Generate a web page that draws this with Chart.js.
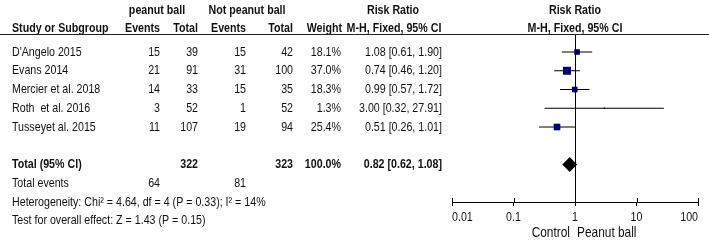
<!DOCTYPE html>
<html>
<head>
<meta charset="utf-8">
<script src="https://cdn.jsdelivr.net/npm/chart.js@4.4.1/dist/chart.umd.min.js"></script>
<style>
  html, body { margin: 0; padding: 0; background: #fff; }
</style>
</head>
<body>
<canvas id="forest" width="709" height="242"></canvas>
<script>
// study rows
const studies = ["D'Angelo 2015", 'Evans 2014', 'Mercier et al. 2018', 'Roth  et al. 2016', 'Tusseyet al. 2015'];
const pbEvents = [15, 21, 14, 3, 11];
const pbTotal = [39, 91, 33, 52, 107];
const npEvents = [15, 31, 15, 1, 19];
const npTotal = [42, 100, 35, 52, 94];
const weights = [18.1, 37.0, 18.3, 1.3, 25.4];
const riskRatio = [1.08, 0.74, 0.99, 3.00, 0.51];
const ciLow = [0.61, 0.46, 0.57, 0.32, 0.26];
const ciHigh = [1.90, 1.20, 1.72, 27.91, 1.01];

// pooled result
const totalPb = 322;
const totalNp = 323;
const totalEventsPb = 64;
const totalEventsNp = 81;
const totalWeight = 100.0;
const totalRR = 0.82;
const totalLow = 0.62;
const totalHigh = 1.08;
const heterogeneity = 'Heterogeneity: Chi\u00b2 = 4.64, df = 4 (P = 0.33); I\u00b2 = 14%';
const overallTest = 'Test for overall effect: Z = 1.43 (P = 0.15)';

// axis
const tickValues = [0.01, 0.1, 1, 10, 100];
const tickLabels = ['0.01', '0.1', '1', '10', '100'];

const TOTAL_ROW = 6, EVENTS_ROW = 7, HET_ROW = 8, TEST_ROW = 9;

// pick a narrow font, squeeze a normal one if none is installed
function hasFont(name) {
    const c = document.createElement('canvas').getContext('2d');
    const probe = 'abcdefghijklmnop 0123456789';
    c.font = '20px monospace';
    const base = c.measureText(probe).width;
    c.font = `20px "${name}", monospace`;
    return c.measureText(probe).width !== base;
}
const narrow = hasFont('Liberation Sans Narrow');
const FONT = narrow ? '"Liberation Sans Narrow", "Arial Narrow", sans-serif' : '"Liberation Sans", Arial, sans-serif';
const SQUEEZE = narrow ? 1 : 0.82;

function txt(ctx, s, x, y, align, bold, size) {
    ctx.save();
    ctx.font = (bold ? 'bold ' : '') + (size || 13) + 'px ' + FONT;
    ctx.textAlign = align;
    ctx.textBaseline = 'middle';
    ctx.fillStyle = '#111';
    ctx.translate(x, y);
    ctx.scale(SQUEEZE, 1);
    ctx.fillText(s, 0, 0);
    ctx.restore();
}

const fmtRR = (v, l, h) => `${v.toFixed(2)} [${l.toFixed(2)}, ${h.toFixed(2)}]`;

// column right edges
const COL = { study: 12, ev1: 160, tot1: 198, ev2: 246, tot2: 293, weight: 341, rr: 442 };
const HEADER_LINE = 34;

const forestTable = {
    id: 'forestTable',
    beforeDatasetsDraw(chart) {
        const ctx = chart.ctx;
        const x1 = chart.scales.x.getPixelForValue(1);
        ctx.save();
        ctx.strokeStyle = '#000';
        ctx.lineWidth = 1;
        ctx.beginPath();
        ctx.moveTo(Math.round(x1) + 0.5, HEADER_LINE);
        ctx.lineTo(Math.round(x1) + 0.5, chart.chartArea.bottom);
        ctx.stroke();
        ctx.restore();
    },
    afterDraw(chart) {
        const ctx = chart.ctx;
        const xs = chart.scales.x;
        const ys = chart.scales.y;
        const rowY = r => ys.getPixelForValue(r);

        // headers
        txt(ctx, 'peanut ball', 157, 10, 'center', true);
        txt(ctx, 'Not peanut ball', 247, 10, 'center', true);
        txt(ctx, 'Risk Ratio', 393, 10, 'center', true);
        txt(ctx, 'Risk Ratio', xs.getPixelForValue(1), 10, 'center', true);
        txt(ctx, 'Study or Subgroup', COL.study, 28, 'left', true);
        txt(ctx, 'Events', COL.ev1, 28, 'right', true);
        txt(ctx, 'Total', COL.tot1, 28, 'right', true);
        txt(ctx, 'Events', COL.ev2, 28, 'right', true);
        txt(ctx, 'Total', COL.tot2, 28, 'right', true);
        txt(ctx, 'Weight', COL.weight + 1, 28, 'right', true);
        txt(ctx, 'M-H, Fixed, 95% CI', 394, 28, 'center', true);
        txt(ctx, 'M-H, Fixed, 95% CI', xs.getPixelForValue(1), 28, 'center', true);

        ctx.save();
        ctx.strokeStyle = '#222';
        ctx.lineWidth = 1;
        ctx.beginPath();
        ctx.moveTo(0, HEADER_LINE + 0.5);
        ctx.lineTo(709, HEADER_LINE + 0.5);
        ctx.stroke();
        ctx.restore();

        // study rows
        studies.forEach((s, i) => {
            const y = rowY(i);
            txt(ctx, s, COL.study, y, 'left');
            txt(ctx, String(pbEvents[i]), COL.ev1, y, 'right');
            txt(ctx, String(pbTotal[i]), COL.tot1, y, 'right');
            txt(ctx, String(npEvents[i]), COL.ev2, y, 'right');
            txt(ctx, String(npTotal[i]), COL.tot2, y, 'right');
            txt(ctx, weights[i].toFixed(1) + '%', COL.weight, y, 'right');
            txt(ctx, fmtRR(riskRatio[i], ciLow[i], ciHigh[i]), COL.rr, y, 'right');
        });

        // totals
        let y = rowY(TOTAL_ROW);
        txt(ctx, 'Total (95% CI)', COL.study, y, 'left', true);
        txt(ctx, String(totalPb), COL.tot1, y, 'right', true);
        txt(ctx, String(totalNp), COL.tot2, y, 'right', true);
        txt(ctx, totalWeight.toFixed(1) + '%', COL.weight, y, 'right', true);
        txt(ctx, fmtRR(totalRR, totalLow, totalHigh), COL.rr, y, 'right', true);

        y = rowY(EVENTS_ROW);
        txt(ctx, 'Total events', COL.study, y, 'left');
        txt(ctx, String(totalEventsPb), COL.ev1, y, 'right');
        txt(ctx, String(totalEventsNp), COL.ev2, y, 'right');
        txt(ctx, heterogeneity, COL.study, rowY(HET_ROW), 'left');
        txt(ctx, overallTest, COL.study, rowY(TEST_ROW), 'left');

        // upper half of the axis ticks, and the tick labels (edge labels kept inside)
        const yb = chart.chartArea.bottom;
        ctx.save();
        ctx.strokeStyle = '#000';
        ctx.lineWidth = 1;
        tickValues.forEach(v => {
            const px = Math.round(xs.getPixelForValue(v)) + 0.5;
            ctx.beginPath();
            ctx.moveTo(px, yb - 4);
            ctx.lineTo(px, yb);
            ctx.stroke();
        });
        ctx.restore();
        tickValues.forEach((v, i) => {
            const align = i === 0 ? 'left' : (i === tickValues.length - 1 ? 'right' : 'center');
            txt(ctx, tickLabels[i], xs.getPixelForValue(v), yb + 15, align);
        });

        // favours labels
        const x1 = xs.getPixelForValue(1);
        txt(ctx, 'Control', x1 - 5, 233, 'right', false, 14.5);
        txt(ctx, 'Peanut ball', x1 + 2, 233, 'left', false, 14.5);
    }
};

const ciSets = studies.map((s, i) => ({
    type: 'line',
    data: [{ x: ciLow[i], y: i }, { x: ciHigh[i], y: i }],
    borderColor: '#000',
    borderWidth: 1,
    pointRadius: 0,
    fill: false,
    order: 2
}));

const chart = new Chart(document.getElementById('forest'), {
    type: 'scatter',
    data: {
        datasets: [
            ...ciSets,
            {
                label: 'Risk ratio',
                data: riskRatio.map((v, i) => ({ x: v, y: i })),
                pointStyle: 'rect',
                pointRadius: ctx => 0.93 * Math.sqrt(weights[ctx.dataIndex]),
                backgroundColor: '#00007a',
                borderColor: '#00007a',
                borderWidth: 0,
                order: 1
            },
            {
                label: 'Total',
                data: [{ x: totalRR, y: TOTAL_ROW }],
                pointStyle: 'rectRot',
                pointRadius: ctx => {
                    const sx = ctx.chart.scales.x;
                    return (sx.getPixelForValue(totalHigh) - sx.getPixelForValue(totalLow)) / 2;
                },
                backgroundColor: '#000',
                borderColor: '#000',
                borderWidth: 0,
                order: 1
            }
        ]
    },
    options: {
        responsive: false,
        devicePixelRatio: 1,
        animation: false,
        events: [],
        layout: { padding: { left: 452, right: 11, top: HEADER_LINE, bottom: 0 } },
        plugins: { legend: { display: false }, tooltip: { enabled: false } },
        scales: {
            x: {
                type: 'logarithmic',
                min: 0.01,
                max: 100,
                position: 'bottom',
                afterBuildTicks: s => { s.ticks = tickValues.map(v => ({ value: v })); },
                afterFit: s => { s.height = 40; },
                ticks: { display: false },
                grid: { drawOnChartArea: false, drawTicks: true, tickLength: 4, color: '#000' },
                border: { display: true, color: '#000', width: 1 }
            },
            y: {
                type: 'linear',
                display: false,
                reverse: true,
                min: -0.96,
                max: 8
            }
        }
    },
    plugins: [forestTable]
});
</script>
</body>
</html>
